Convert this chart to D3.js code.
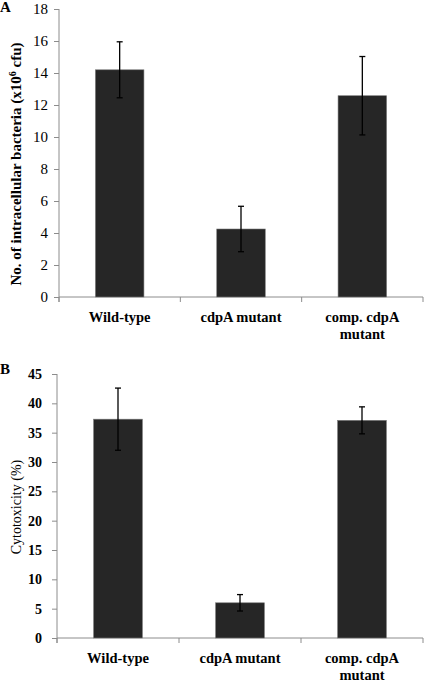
<!DOCTYPE html>
<html>
<head>
<meta charset="utf-8">
<script src="https://cdn.jsdelivr.net/npm/d3@7"></script>
<style>
  html, body { margin: 0; padding: 0; background: #fff; }
  svg { display: block; }
  text { font-family: "Liberation Serif", "Times New Roman", Times, serif; fill: #000; }
</style>
</head>
<body>
<svg id="chart" width="425" height="682"></svg>
<script>
// ---- data ----
const categories = ["Wild-type", "cdpA mutant", "comp. cdpA mutant"];
const categoryLines = [["Wild-type"], ["cdpA mutant"], ["comp. cdpA", "mutant"]];

const bacteriaValues = [14.2, 4.25, 12.58];
const bacteriaErrors = [1.75, 1.42, 2.45];
const bacteriaTicks = [0, 2, 4, 6, 8, 10, 12, 14, 16, 18];

const cytoValues = [37.3, 6.0, 37.1];
const cytoErrors = [5.3, 1.4, 2.3];
const cytoTicks = [0, 5, 10, 15, 20, 25, 30, 35, 40, 45];

const svg = d3.select("#chart");
const axisColor = "#8c8c8c";
const barColor = "#262626";
const serif = '"Liberation Serif", "Times New Roman", Times, serif';

function panel(opts) {
  const g = svg.append("g");
  const x = d3.scaleBand().domain(categories).range([opts.left, opts.right]).padding(0);
  const y = d3.scaleLinear().domain([0, opts.max]).range([opts.bottom, opts.top]);
  const barW = x.bandwidth() * 0.4;

  // panel letter
  g.append("text").attr("x", 0).attr("y", opts.letterY)
    .attr("font-size", 15).attr("font-weight", "bold").text(opts.letter);

  // y axis
  const yAxis = d3.axisLeft(y).tickValues(opts.ticks).tickSize(5).tickPadding(opts.tickPad)
    .tickFormat(d3.format("d"));
  const ya = g.append("g").attr("transform", `translate(${opts.left},0)`).call(yAxis)
    .attr("font-family", serif);
  ya.select(".domain").attr("stroke", axisColor).attr("d", `M0,${opts.top}V${opts.bottom + 5}`);
  ya.selectAll(".tick line").attr("stroke", axisColor);
  ya.selectAll(".tick text")
    .attr("font-family", serif)
    .attr("font-size", opts.tickFont)
    .attr("font-weight", opts.tickBold ? "bold" : "normal")
    .attr("fill", "#000");

  // x axis line + boundary ticks
  g.append("line").attr("x1", opts.left).attr("x2", opts.right)
    .attr("y1", y(0)).attr("y2", y(0)).attr("stroke", axisColor);
  const bounds = categories.map(c => x(c) + x.bandwidth()).concat([opts.left]);
  g.selectAll(".xt").data(bounds).enter().append("line")
    .attr("x1", d => d).attr("x2", d => d)
    .attr("y1", y(0)).attr("y2", y(0) + 5).attr("stroke", axisColor);

  // bars
  g.selectAll(".bar").data(opts.values).enter().append("rect")
    .attr("x", (d, i) => x(categories[i]) + x.bandwidth() / 2 - barW / 2)
    .attr("width", barW)
    .attr("y", d => y(d))
    .attr("height", d => y(0) - y(d))
    .attr("fill", barColor)
    .attr("stroke", "#7a7a7a").attr("stroke-width", 0.6);

  // error bars
  const eg = g.selectAll(".err").data(opts.values).enter().append("g");
  eg.append("line")
    .attr("x1", (d, i) => x(categories[i]) + x.bandwidth() / 2)
    .attr("x2", (d, i) => x(categories[i]) + x.bandwidth() / 2)
    .attr("y1", (d, i) => y(d + opts.errors[i]))
    .attr("y2", (d, i) => y(d - opts.errors[i]))
    .attr("stroke", "#000").attr("stroke-width", 1.3);
  [1, -1].forEach(s => {
    eg.append("line")
      .attr("x1", (d, i) => x(categories[i]) + x.bandwidth() / 2 - 3)
      .attr("x2", (d, i) => x(categories[i]) + x.bandwidth() / 2 + 3)
      .attr("y1", (d, i) => y(d + s * opts.errors[i]))
      .attr("y2", (d, i) => y(d + s * opts.errors[i]))
      .attr("stroke", "#000").attr("stroke-width", 1.3);
  });

  // category labels (one text element per line)
  categories.forEach((c, i) => {
    categoryLines[i].forEach((line, j) => {
      g.append("text")
        .attr("x", x(c) + x.bandwidth() / 2)
        .attr("y", y(0) + 25 + j * 16.5)
        .attr("text-anchor", "middle")
        .attr("font-size", 14.5).attr("font-weight", "bold")
        .text(line);
    });
  });

  // y title
  const ty = g.append("text")
    .attr("transform", `translate(${opts.titleX},${opts.titleY}) rotate(-90)`)
    .attr("text-anchor", "middle")
    .attr("font-size", opts.titleFont)
    .attr("font-weight", opts.titleBold ? "bold" : "normal");
  opts.title(ty);
}

panel({
  letter: "A", letterY: 12,
  left: 59, right: 423, top: 9, bottom: 297, max: 18,
  ticks: bacteriaTicks, tickFont: 15, tickBold: false, tickPad: 6,
  values: bacteriaValues, errors: bacteriaErrors,
  titleX: 21, titleY: 164, titleFont: 15, titleBold: true,
  title: t => {
    t.append("tspan").text("No. of intracellular bacteria (x10");
    t.append("tspan").attr("font-size", 10).attr("dy", -5).text("6");
    t.append("tspan").attr("dy", 5).text(" cfu)");
  }
});

panel({
  letter: "B", letterY: 374,
  left: 57, right: 423, top: 374, bottom: 638, max: 45,
  ticks: cytoTicks, tickFont: 14, tickBold: true, tickPad: 10,
  values: cytoValues, errors: cytoErrors,
  titleX: 21, titleY: 507, titleFont: 14, titleBold: false,
  title: t => { t.text("Cytotoxicity (%)"); }
});
</script>
</body>
</html>
